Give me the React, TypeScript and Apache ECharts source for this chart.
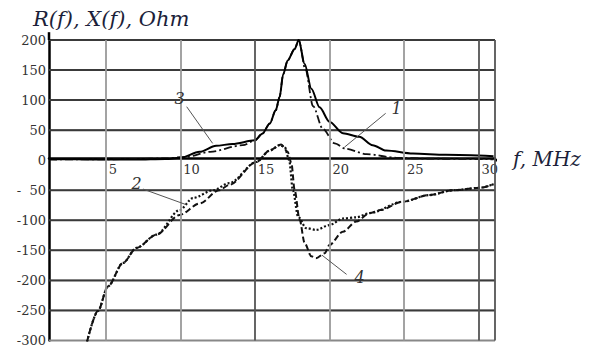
import React, { useEffect, useRef } from "react";
import * as echarts from "echarts";

// Curve 1 (dash-dot), R(f)
const f1 = [1.2, 3, 5, 7, 9, 10.4, 12, 14.2, 15, 15.5, 16, 16.4, 16.66, 16.9, 17.2, 17.67, 17.94, 18.4, 18.9, 19.56, 20.35, 21.1, 22.5, 24.5, 26.7, 31.0];
const v1 = [1, 1.5, 1.5, 2, 3, 5.5, 14, 25, 33, 44, 61, 83, 105, 143, 166, 185, 200, 150, 90, 52, 28, 19, 10, 4, 2.5, 1.5];

// Curve 3 (solid), R(f)
const f3 = [1.2, 3, 5, 7, 9, 10, 11.3, 12.4, 13.5, 15, 15.5, 16, 16.4, 16.66, 16.9, 17.2, 17.67, 17.94, 18.34, 18.79, 19.34, 20.0, 20.9, 22.0, 22.9, 23.8, 25.6, 27.8, 31.0];
const v3 = [2, 1.5, 1, 1, 2, 4, 14, 24, 27, 33, 44, 61, 83, 105, 143, 166, 185, 200, 160, 119, 88, 64, 45, 39, 25, 16, 11, 9, 6.6];

// Curve 2 (dotted), X(f)
const f2 = [3.75, 4.48, 5.15, 6.16, 7.06, 8.4, 9.96, 10.85, 12.2, 13.3, 15.1, 16.0, 16.66, 17.0, 17.3, 17.55, 17.9, 18.44, 19.1, 20.0, 20.9, 21.8, 22.7, 24.9, 26.7, 28.3, 30.07, 31.0];
const v2 = [-302, -251, -210, -171, -146, -124, -83, -63, -50, -38, -3, 16, 25, 22, 0, -50, -94, -113, -116, -108, -97, -95, -88, -69, -58, -50, -46, -40];

// Curve 4 (dashed), X(f)
const f4 = [3.75, 4.48, 5.15, 6.16, 7.06, 8.4, 9.96, 11.3, 12.6, 13.3, 15.1, 16.0, 16.77, 17.2, 17.45, 17.67, 18.0, 18.34, 18.79, 19.1, 19.68, 20.0, 20.9, 21.8, 22.7, 23.4, 24.9, 26.7, 28.3, 30.07, 31.0];
const v4 = [-302, -251, -210, -171, -146, -124, -91, -72, -50, -41, -3, 16.6, 26, 14, -5, -50, -99, -138, -160, -163, -155, -141, -119, -102, -88, -83, -69, -58, -50, -46, -40];

// Axes
const xMin = 1.2;
const xMax = 31.1;
const xAxisEnd = 32.0; // axis line runs a little past the frame
const yMin = -300;
const yMax = 200;
const yAxisTop = 213; // axis line runs a little above the frame
const yStep = 50;
const xGrid = [5, 10, 15, 20, 25, 30, xMax];
const xGridDark = [15, 30, xMax];
const yGrid = [-300, -250, -200, -150, -100, -50, 50, 100, 150, 200];
const bandHalf = 1.0; // half thickness of a horizontal grid band, in ohms

// Curve labels: [label, label x, label y, leader start x, y, leader end x, y] (data units)
const curveLabels: [string, number, number, number, number, number, number][] = [
  ["1", 24.5, 86, 23.77, 78, 21.0, 21.5],
  ["2", 7.08, -38, 7.5, -48, 10.4, -74],
  ["3", 9.96, 103, 10.43, 89, 12.17, 28],
  ["4", 22.02, -195, 21.15, -190, 19.5, -158],
];

const pairs = (xs: number[], ys: number[]) => xs.map((x, i) => [x, ys[i]]);

const serif = "'DejaVu Serif', 'Liberation Serif', serif";
const titleColor = "#1c1f3a";
const hGridColor = (v: number) => (v === yMin ? "#888" : "#3a3a3a");

export default function App() {
  const ref = useRef<HTMLDivElement>(null);
  useEffect(() => {
    document.body.style.margin = "0";
    const chart = echarts.init(ref.current!, null, { renderer: "svg" });
    const annotation = (idx: number) => {
      const [t, lx, ly, sx, sy, ex, ey] = curveLabels[idx];
      return {
        markLine: {
          silent: true,
          symbol: ["none", "none"],
          label: { show: false },
          lineStyle: { color: "#555", width: 1, type: "solid" },
          data: [[{ coord: [sx, sy] }, { coord: [ex, ey] }]],
        },
        markPoint: {
          silent: true,
          symbol: "circle",
          symbolSize: 1,
          itemStyle: { color: "rgba(0,0,0,0)" },
          label: {
            show: true,
            position: "inside",
            formatter: t,
            fontFamily: serif,
            fontStyle: "italic",
            fontSize: 16,
            color: "#333",
          },
          data: [{ coord: [lx, ly] }],
        },
      };
    };
    const common = {
      type: "line",
      showSymbol: false,
      symbol: "none",
      smooth: 0.3,
      smoothMonotone: "x",
    };
    const straight = (data: number[][], color: string, width: number) => ({
      type: "line",
      data,
      showSymbol: false,
      symbol: "none",
      clip: false,
      lineStyle: { color, width },
    });
    const verticalGrid = xGrid.map((v) => ({
      xAxis: v,
      lineStyle: {
        color: xGridDark.includes(v) ? "#555" : "#999",
        width: 1.8,
        type: "solid",
      },
    }));
    const horizontalBands = yGrid.map((v) => [
      { coord: [xMin, v - bandHalf], itemStyle: { color: hGridColor(v) } },
      { coord: [xMax, v + bandHalf] },
    ]);
    const horizontalGridSeries = yGrid.map((v) =>
      straight(
        [
          [xMin, v],
          [xMax, v],
        ],
        hGridColor(v),
        2
      )
    );

    chart.setOption({
      animation: false,
      title: {
        text: "R(f), X(f), Ohm",
        left: 33,
        top: 8,
        padding: 0,
        textStyle: {
          fontFamily: serif,
          fontStyle: "italic",
          fontWeight: "normal",
          fontSize: 21,
          color: titleColor,
        },
      },
      grid: { left: 49, right: 96, top: 40, bottom: 5 },
      xAxis: {
        type: "value",
        min: xMin,
        max: xMax,
        splitNumber: 6,
        position: "bottom",
        offset: -182,
        name: "f, MHz",
        nameLocation: "end",
        nameGap: 18,
        nameTextStyle: {
          fontFamily: serif,
          fontStyle: "italic",
          fontSize: 20,
          color: titleColor,
          align: "left",
          verticalAlign: "middle",
        },
        axisLine: { show: true, onZero: false, lineStyle: { color: "#000", width: 2.5 } },
        axisTick: { show: false },
        axisLabel: {
          showMinLabel: false,
          showMaxLabel: false,
          align: "left",
          margin: 4,
          padding: [0, 0, 0, 3],
          fontFamily: serif,
          fontSize: 13,
          color: "#333",
        },
        splitLine: { show: false },
      },
      yAxis: {
        type: "value",
        min: yMin,
        max: yMax,
        interval: yStep,
        axisLine: { show: true, onZero: false, lineStyle: { color: "#000", width: 2.5 } },
        axisTick: { show: false },
        axisLabel: {
          margin: 3,
          fontFamily: serif,
          fontSize: 13,
          color: "#333",
          formatter: (v: number) =>
            v < 0 ? "-" + String(-v).padStart(3, "\u2007") : String(v),
        },
        splitLine: { show: false },
      },
      series: [
        {
          type: "line",
          name: "grid",
          data: [],
          silent: true,
          markArea: {
            silent: true,
            label: { show: false },
            data: horizontalBands,
          },
          markLine: {
            silent: true,
            symbol: ["none", "none"],
            label: { show: false },
            data: verticalGrid,
          },
        },
        ...horizontalGridSeries,
        straight(
          [
            [xMax, 0],
            [xAxisEnd, 0],
          ],
          "#000",
          2.5
        ),
        straight(
          [
            [xMin, yMax],
            [xMin, yAxisTop],
          ],
          "#000",
          2.5
        ),
        {
          ...common,
          name: "1",
          data: pairs(f1, v1),
          lineStyle: { color: "#111", width: 1.8, type: [8, 3, 2, 3] },
          ...annotation(0),
        },
        {
          ...common,
          name: "3",
          data: pairs(f3, v3),
          lineStyle: { color: "#000", width: 2, type: "solid" },
          ...annotation(2),
        },
        {
          ...common,
          name: "2",
          data: pairs(f2, v2),
          lineStyle: { color: "#111", width: 2.2, type: [2, 2] },
          ...annotation(1),
        },
        {
          ...common,
          name: "4",
          data: pairs(f4, v4),
          lineStyle: { color: "#111", width: 2, type: [6, 3] },
          ...annotation(3),
        },
      ],
    });
    return () => chart.dispose();
  }, []);
  return <div ref={ref} style={{ width: 591, height: 347 }} />;
}
